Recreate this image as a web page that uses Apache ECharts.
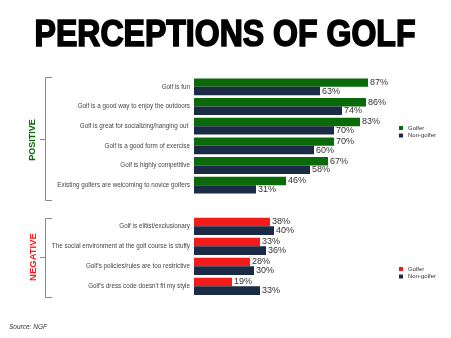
<!DOCTYPE html>
<html>
<head>
<meta charset="utf-8">
<script src="https://cdn.jsdelivr.net/npm/echarts@6/dist/echarts.min.js"></script>
<style>html,body{margin:0;padding:0;background:#fff;}#c{width:451px;height:338px;}</style>
</head>
<body>
<div id="c"></div>
<script>
const posCategories = ["Golf is fun", "Golf is a good way to enjoy the outdoors", "Golf is great for socializing/hanging out ", "Golf is a good form of exercise", "Golf is highly competitive", "Existing golfers are welcoming to novice golfers"];
const posGolfer = [87, 86, 83, 70, 67, 46];
const posNonGolfer = [63, 74, 70, 60, 58, 31];
const negCategories = ["Golf is elitist/exclusionary", "The social environment at the golf course is stuffy", "Golf's policies/rules are too restrictive", "Golf's dress code doesn't fit my style"];
const negGolfer = [38, 33, 28, 19];
const negNonGolfer = [40, 36, 30, 33];

const GREEN = '#0a6a0a', NAVY = '#1b2a45', RED = '#f41b1b', BR = '#8a8a8a';
const chart = echarts.init(document.getElementById('c'), null, {renderer: 'canvas'});
const lbl = {show: true, position: 'right', distance: 2, formatter: '{c}%', fontSize: 9, color: '#333', fontFamily: 'Liberation Sans'};
const yLab = {fontSize: 6.3, color: '#444', margin: 4, fontFamily: 'Liberation Sans'};
function yAx(idx, cats) {
  return {type: 'category', gridIndex: idx, data: cats, inverse: true,
    axisLine: {show: false}, axisTick: {show: false}, axisLabel: yLab};
}
function xAx(idx) {
  return {type: 'value', gridIndex: idx, min: 0, max: 100, show: false};
}
function bar(name, data, color, idx) {
  return {type: 'bar', name: name, data: data, xAxisIndex: idx, yAxisIndex: idx,
    barGap: '0%', barCategoryGap: '14%', itemStyle: {color: color}, label: lbl, silent: true};
}
const legTxt = {fontSize: 6, color: '#333', fontFamily: 'Liberation Sans', lineHeight: 6};
chart.setOption({
  animation: false,
  grid: [
    {left: 194, width: 200, top: 77, height: 118},
    {left: 194, width: 200, top: 216.3, height: 80}
  ],
  xAxis: [xAx(0), xAx(1)],
  yAxis: [yAx(0, posCategories), yAx(1, negCategories)],
  legend: [
    {data: ['Golfer', 'Non-golfer'], orient: 'vertical', left: 394, top: 120, itemWidth: 4, itemHeight: 4, itemGap: 1.5, icon: 'rect', textStyle: legTxt, selectedMode: false,
      formatter: n => n.trim()},
    {data: ['Golfer ', 'Non-golfer '], orient: 'vertical', left: 394, top: 261, itemWidth: 4, itemHeight: 4, itemGap: 1.5, icon: 'rect', textStyle: legTxt, selectedMode: false,
      formatter: n => n.trim()}
  ],
  series: [
    bar('Golfer', posGolfer, GREEN, 0),
    bar('Non-golfer', posNonGolfer, NAVY, 0),
    bar('Golfer ', negGolfer, RED, 1),
    bar('Non-golfer ', negNonGolfer, NAVY, 1)
  ],
  graphic: [
    {type: 'text', x: 225, y: 36, scaleX: 0.89,
      style: {text: 'PERCEPTIONS OF GOLF', fill: '#000', stroke: '#000', lineWidth: 1.6, fontSize: 36, fontWeight: 'bold', fontFamily: 'Liberation Sans', align: 'center', verticalAlign: 'middle'}},
    {type: 'polyline', shape: {points: [[52, 77.5], [45.5, 77.5], [45.5, 200.5], [52, 200.5]]}, style: {stroke: BR, lineWidth: 1, fill: null}},
    {type: 'line', shape: {x1: 40, y1: 139.5, x2: 45.5, y2: 139.5}, style: {stroke: BR, lineWidth: 1}},
    {type: 'polyline', shape: {points: [[52, 218.5], [45.5, 218.5], [45.5, 297.5], [52, 297.5]]}, style: {stroke: BR, lineWidth: 1, fill: null}},
    {type: 'line', shape: {x1: 40, y1: 257.5, x2: 45.5, y2: 257.5}, style: {stroke: BR, lineWidth: 1}},
    {type: 'text', x: 33, y: 140, rotation: Math.PI / 2,
      style: {text: 'POSITIVE', fill: GREEN, fontSize: 9, fontWeight: 'bold', fontFamily: 'Liberation Sans', align: 'center', verticalAlign: 'middle'}},
    {type: 'text', x: 33, y: 257, rotation: Math.PI / 2,
      style: {text: 'NEGATIVE', fill: RED, fontSize: 9.5, fontWeight: 'bold', fontFamily: 'Liberation Sans', align: 'center', verticalAlign: 'middle'}},
    {type: 'text', x: 9, y: 327,
      style: {text: 'Source: NGF', fill: '#333', fontSize: 6.5, fontStyle: 'italic', fontFamily: 'Liberation Sans', verticalAlign: 'middle'}}
  ]
});
</script>
</body>
</html>
